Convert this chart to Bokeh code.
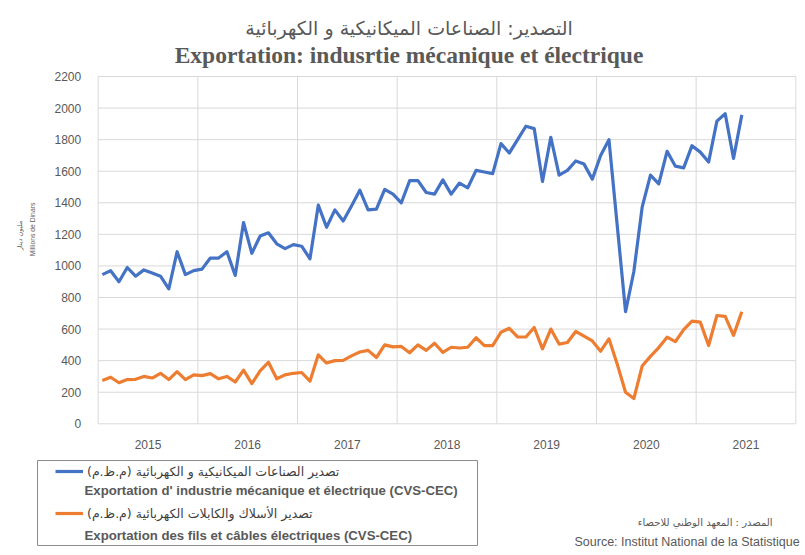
import math
from bokeh.plotting import figure
from bokeh.models import Label, Legend, LegendItem, BoxAnnotation, Range1d
from bokeh.core.properties import value
from bokeh.embed import file_html
from bokeh.resources import INLINE

# ---- data (monthly, Jan 2015 - Jun 2021) ----
years = ["2015", "2016", "2017", "2018", "2019", "2020", "2021"]
mech_elec = [945, 970, 900, 990, 935, 975, 955, 935, 855, 1090, 945, 970,
             980, 1050, 1050, 1090, 940, 1275, 1080, 1190, 1210, 1140, 1110, 1135,
             1125, 1045, 1385, 1245, 1355, 1285, 1380, 1480, 1355, 1360, 1485, 1455,
             1400, 1540, 1540, 1465, 1455, 1545, 1455, 1525, 1495, 1605, 1595, 1585,
             1775, 1715, 1800, 1885, 1870, 1535, 1815, 1575, 1605, 1665, 1645, 1550,
             1700, 1800, 1255, 710, 965, 1372, 1575, 1520, 1726, 1632, 1621, 1762,
             1721, 1658, 1917, 1964, 1681, 1957]
wires_cables = [275, 295, 260, 280, 282, 300, 290, 320, 280, 330, 280, 310,
                305, 318, 285, 300, 265, 340, 255, 335, 390, 285, 310, 320,
                325, 270, 437, 385, 400, 402, 430, 455, 465, 420, 500, 487,
                490, 450, 500, 465, 510, 452, 485, 480, 485, 545, 495, 495,
                580, 605, 550, 550, 610, 475, 600, 505, 515, 585, 555, 525,
                460, 538, 378, 200, 160, 366, 427, 483, 549, 520, 597, 650,
                644, 496, 686, 680, 560, 710]
y_ticks = list(range(0, 2201, 200))
y_min, y_max = 0, 2200

title_ar = "التصدير: الصناعات الميكانيكية و الكهربائية"
title_fr = "Exportation: indusrtie mécanique et électrique"
ylabel_ar = "مليون دينار"
ylabel_fr = "Millions de Dinars"
leg1_ar = "تصدير الصناعات الميكانيكية و الكهربائية (م.ظ.م)\u200f"
leg1_fr = "Exportation d' industrie mécanique et électrique (CVS-CEC)"
leg2_ar = "تصدير الأسلاك والكابلات الكهربائية (م.ظ.م)\u200f"
leg2_fr = "Exportation des fils et câbles électriques (CVS-CEC)"
src_ar = "المصدر : المعهد الوطني للاحصاء"
src_fr = "Source: Institut National de la Statistique"

n_months = 12 * len(years)
x = [i + 0.5 for i in range(len(mech_elec))]

# ---- layout (pixels) ----
W, H = 805, 555
PL, PR, PT, PB = 97.7, 795.3, 76.0, 423.3   # plot area in page pixels
GRAY = "#595959"
sx = (PR - PL) / n_months            # px per month
sy = (PB - PT) / (y_max - y_min)     # px per unit


def dx(px):   # page pixel -> x data
    return (px - PL) / sx


def dy(py):   # page pixel -> y data
    return y_min + (PB - py) / sy


p = figure(width=W, height=H, output_backend="svg", toolbar_location=None,
           x_range=Range1d(dx(0), dx(W)), y_range=Range1d(dy(H), dy(0)),
           min_border=0, x_axis_location=None, y_axis_location=None)
p.outline_line_color = None
p.xgrid.visible = False
p.ygrid.visible = False
p.background_fill_color = "white"
p.border_fill_color = "white"

# gridlines from the tick positions
gx = list(range(0, n_months + 1, 12))
p.segment(x0=gx, y0=[y_min] * len(gx), x1=gx, y1=[y_max] * len(gx),
          line_color="#d9d9d9", line_width=1)
p.segment(x0=[0] * len(y_ticks), y0=y_ticks, x1=[n_months] * len(y_ticks), y1=y_ticks,
          line_color="#d9d9d9", line_width=1)

# tick labels
p.text(x=[0] * len(y_ticks), y=y_ticks, text=[str(t) for t in y_ticks],
       x_offset=-17, text_align="right", text_baseline="middle",
       text_font=value("Liberation Sans"), text_font_size=value("12px"), text_color=GRAY)
centers = [12 * k + 6 for k in range(len(years))]
p.text(x=centers, y=[y_min] * len(centers), text=years, y_offset=21,
       text_align="center", text_baseline="middle",
       text_font=value("Liberation Sans"), text_font_size=value("12px"), text_color=GRAY)

r1 = p.line(x, mech_elec, line_color="#4472C4", line_width=3.2, line_join="round")
r2 = p.line(x, wires_cables, line_color="#ED7D31", line_width=3.2, line_join="round")


def lab(X, Y, text, font, size, style="normal", align="center", angle=0.0, color=GRAY):
    p.add_layout(Label(x=X, y=H - Y, x_units="screen", y_units="screen", text=text,
                       text_font=font, text_font_size=size, text_font_style=style,
                       text_align=align, text_baseline="middle", angle=angle,
                       text_color=color))


lab(408.5, 27, title_ar, "DejaVu Sans", "19px")
lab(408.5, 54, title_fr, "Liberation Serif", "23.5px", style="bold")
lab(19, 235, ylabel_ar, "DejaVu Sans", "6.5px", angle=math.pi / 2)
lab(32, 229, ylabel_fr, "Liberation Sans", "6.8px", angle=math.pi / 2)

# legend frame
box = BoxAnnotation(left=dx(37), right=dx(477), top=dy(460), bottom=dy(545),
                    fill_alpha=0, line_color="#8c8c8c", line_width=1, line_alpha=1)
p.add_layout(box)

legend = Legend(items=[LegendItem(label=leg1_ar, renderers=[r1]),
                       LegendItem(label=leg2_ar, renderers=[r2])],
                location=(55, H - 521), glyph_width=28, glyph_height=16,
                label_height=16, spacing=26, padding=0, margin=0, label_standoff=4,
                border_line_color=None, background_fill_alpha=0,
                label_text_font="DejaVu Sans", label_text_font_size="12.5px",
                label_text_color="#404040")
p.add_layout(legend)
lab(84, 490, leg1_fr, "Liberation Sans", "13.2px", style="bold", align="left")
lab(84, 535, leg2_fr, "Liberation Sans", "13.2px", style="bold", align="left")

lab(772, 522, src_ar, "DejaVu Sans", "10px", align="right")
lab(574, 541, src_fr, "Liberation Sans", "12.5px", align="left")

open("out.html", "w").write(file_html(p, INLINE))
